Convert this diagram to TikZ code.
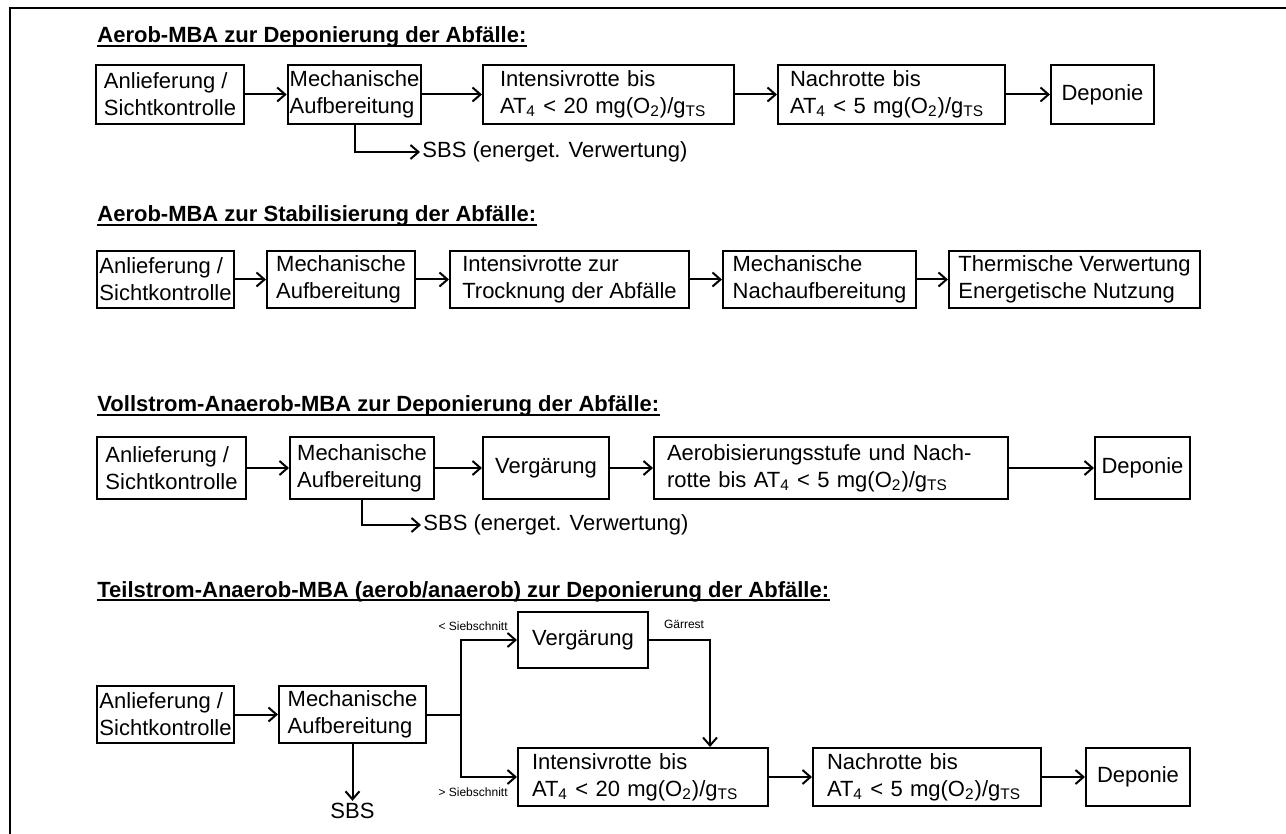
\documentclass[tikz,border=0pt]{standalone}
\usepackage{fontspec}
\setmainfont{Liberation Sans}
\usepackage{tikz}
\usetikzlibrary{arrows.meta, positioning}

\newcommand{\bxfont}{\fontsize{11}{13.5}\selectfont}
\newcommand{\hdfont}{\fontsize{11}{13.5}\selectfont\bfseries}
\newcommand{\smfont}{\fontsize{6}{7}\selectfont}

\tikzset{
  box/.style={draw, line width=1pt, align=left, inner sep=1pt, font=\bxfont},
  arr/.style={-{Straight Barb[length=4pt,width=7pt,line width=1pt]}, line width=1pt},
  heading/.style={anchor=base west, inner sep=0pt, font=\hdfont},
  lbl/.style={inner sep=1pt, font=\smfont},
  uline/.style={line width=0.8pt},
}

\begin{document}
\begin{tikzpicture}[x=0.5pt, y=-0.5pt]
  \useasboundingbox (0,0) rectangle (1286,834);
  \draw[line width=1.3pt] (10,834) -- (10,8) -- (1286,8);

  % Headings
  \node (h1) [heading] at (97,43) {Aerob-MBA zur Deponierung der Abfälle:};
  \node (h2) [heading] at (97,222) {Aerob-MBA zur Stabilisierung der Abfälle:};
  \node (h3) [heading] at (97,412) {Vollstrom-Anaerob-MBA zur Deponierung der Abfälle:};
  \node (h4) [heading] at (97,597) {Teilstrom-Anaerob-MBA (aerob/anaerob) zur Deponierung der Abfälle:};
  \foreach \h in {h1,h2,h3,h4}
    \draw[uline] ([yshift=-1.6pt]\h.base west) -- ([yshift=-1.6pt]\h.base east);

  % Row 1
  \node (A1) [box, minimum width=74pt, minimum height=29.5pt] at (170,94.5) {Anlieferung /\\Sichtkontrolle};
  \node (M1) [box, minimum width=65.5pt, minimum height=29.5pt] at (354.5,94.5) {Mechanische\\Aufbereitung};
  \node (I1) [box, minimum width=125.5pt, minimum height=29.5pt, text width=108.5pt] at (608.5,94.5) {Intensivrotte bis\\AT\textsubscript{4} < 20 mg(O\textsubscript{2})/g\textsubscript{TS}};
  \node (N1) [box, minimum width=113.5pt, minimum height=29.5pt, text width=101.5pt] at (891.5,94.5) {Nachrotte bis\\AT\textsubscript{4} < 5 mg(O\textsubscript{2})/g\textsubscript{TS}};
  \node (D1) [box, minimum width=51.5pt, minimum height=29.5pt] at (1102.5,94.5) {Deponie};
  \node (S1) [anchor=west, inner sep=1pt, font=\bxfont] at (420,152) {SBS (energet. Verwertung)};

  \draw[arr] (A1) -- (M1);
  \draw[arr] (M1) -- (I1);
  \draw[arr] (I1) -- (N1);
  \draw[arr] (N1) -- (D1);
  \draw[arr] (M1.south) |- (S1.west);

  % Row 2
  \node (A2) [box, minimum width=68.5pt, minimum height=28.5pt] at (165.5,279.5) {Anlieferung /\\Sichtkontrolle};
  \node (M2) [box, minimum width=74pt, minimum height=28.5pt] at (341,279.5) {Mechanische\\Aufbereitung};
  \node (I2) [box, minimum width=119.5pt, minimum height=28.5pt] at (569.5,279.5) {Intensivrotte zur\\Trocknung der Abfälle};
  \node (N2) [box, minimum width=96.5pt, minimum height=28.5pt] at (819.5,279.5) {Mechanische\\Nachaufbereitung};
  \node (T2) [box, minimum width=125.5pt, minimum height=28.5pt] at (1074.5,279.5) {Thermische Verwertung\\Energetische Nutzung};

  \draw[arr] (A2) -- (M2);
  \draw[arr] (M2) -- (I2);
  \draw[arr] (I2) -- (N2);
  \draw[arr] (N2) -- (T2);

  % Row 3
  \node (A3) [box, minimum width=74.5pt, minimum height=31pt] at (171.5,468) {Anlieferung /\\Sichtkontrolle};
  \node (M3) [box, minimum width=72pt, minimum height=31pt] at (362,468) {Mechanische\\Aufbereitung};
  \node (V3) [box, minimum width=63pt, minimum height=31pt] at (546,468) {Vergärung};
  \node (R3) [box, minimum width=177pt, minimum height=31pt, text width=164pt] at (831,468) {Aerobisierungsstufe und Nach-\\rotte bis AT\textsubscript{4} < 5 mg(O\textsubscript{2})/g\textsubscript{TS}};
  \node (D3) [box, minimum width=47.5pt, minimum height=31pt] at (1142.5,468) {Deponie};
  \node (S3) [anchor=west, inner sep=1pt, font=\bxfont] at (421,525) {SBS (energet. Verwertung)};

  \draw[arr] (A3) -- (M3);
  \draw[arr] (M3) -- (V3);
  \draw[arr] (V3) -- (R3);
  \draw[arr] (R3) -- (D3);
  \draw[arr] (M3.south) |- (S3.west);

  % Row 4
  \node (A4) [box, minimum width=68.5pt, minimum height=28.5pt] at (165.5,714.5) {Anlieferung /\\Sichtkontrolle};
  \node (M4) [box, minimum width=73.5pt, minimum height=28.5pt] at (352.5,714.5) {Mechanische\\Aufbereitung};
  \node (V4) [box, minimum width=65pt, minimum height=28pt] at (583,640) {Vergärung};
  \node (I4) [box, minimum width=125pt, minimum height=29pt, text width=111pt] at (643,777) {Intensivrotte bis\\AT\textsubscript{4} < 20 mg(O\textsubscript{2})/g\textsubscript{TS}};
  \node (N4) [box, minimum width=114pt, minimum height=29pt, text width=100pt] at (927,777) {Nachrotte bis\\AT\textsubscript{4} < 5 mg(O\textsubscript{2})/g\textsubscript{TS}};
  \node (D4) [box, minimum width=52pt, minimum height=29pt] at (1138,777) {Deponie};
  \node (S4) [inner sep=1pt, font=\bxfont] at (352.5,811) {SBS};
  \node (lt) [lbl, anchor=east] at (510,626) {< Siebschnitt};
  \node (gt) [lbl, anchor=east] at (510,792) {> Siebschnitt};
  \node (gr) [lbl] at (684,624) {Gärrest};
  \coordinate (br) at (461,714.5);
  \coordinate (gd) at (710,640);

  \draw[arr] (A4) -- (M4);
  \draw[line width=1pt] (M4.east) -- (br);
  \draw[arr] (br) |- (V4.west);
  \draw[arr] (br) |- (I4.west);
  \draw[arr] (V4.east) -- (gd) -- (gd |- I4.north);
  \draw[arr] (M4.south) -- (S4.north);
  \draw[arr] (I4) -- (N4);
  \draw[arr] (N4) -- (D4);
\end{tikzpicture}
\end{document}
